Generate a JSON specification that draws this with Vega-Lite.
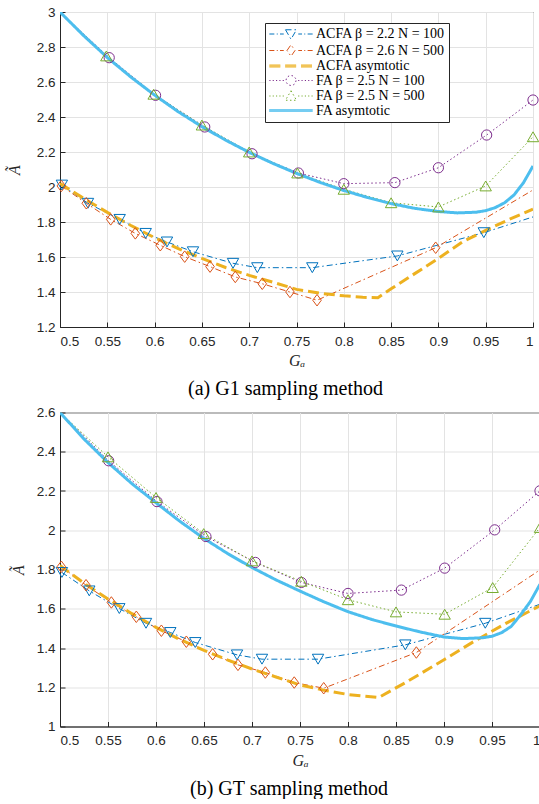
{
  "$schema": "https://vega.github.io/schema/vega-lite/v6.json",
  "padding": {"left": 5, "top": 4, "right": 0, "bottom": 0},
  "background": "white",
  "datasets": {
    "g1_lines": [
      {"s": "ACFA β = 2.2 N = 100", "x": 0.502, "y": 2.011},
      {"s": "ACFA β = 2.2 N = 100", "x": 0.5296, "y": 1.907},
      {"s": "ACFA β = 2.2 N = 100", "x": 0.5631, "y": 1.815},
      {"s": "ACFA β = 2.2 N = 100", "x": 0.5906, "y": 1.735},
      {"s": "ACFA β = 2.2 N = 100", "x": 0.6131, "y": 1.686},
      {"s": "ACFA β = 2.2 N = 100", "x": 0.6406, "y": 1.63},
      {"s": "ACFA β = 2.2 N = 100", "x": 0.6829, "y": 1.564},
      {"s": "ACFA β = 2.2 N = 100", "x": 0.7086, "y": 1.539},
      {"s": "ACFA β = 2.2 N = 100", "x": 0.7667, "y": 1.539},
      {"s": "ACFA β = 2.2 N = 100", "x": 0.8566, "y": 1.606},
      {"s": "ACFA β = 2.2 N = 100", "x": 0.948, "y": 1.739},
      {"s": "ACFA β = 2.2 N = 100", "x": 1.0, "y": 1.829},
      {"s": "ACFA β = 2.6 N = 500", "x": 0.5014, "y": 2.006},
      {"s": "ACFA β = 2.6 N = 500", "x": 0.5278, "y": 1.907},
      {"s": "ACFA β = 2.6 N = 500", "x": 0.5536, "y": 1.815},
      {"s": "ACFA β = 2.6 N = 500", "x": 0.5796, "y": 1.735},
      {"s": "ACFA β = 2.6 N = 500", "x": 0.606, "y": 1.667},
      {"s": "ACFA β = 2.6 N = 500", "x": 0.6318, "y": 1.602},
      {"s": "ACFA β = 2.6 N = 500", "x": 0.6586, "y": 1.545},
      {"s": "ACFA β = 2.6 N = 500", "x": 0.6853, "y": 1.486},
      {"s": "ACFA β = 2.6 N = 500", "x": 0.7138, "y": 1.447},
      {"s": "ACFA β = 2.6 N = 500", "x": 0.7431, "y": 1.4},
      {"s": "ACFA β = 2.6 N = 500", "x": 0.7717, "y": 1.353},
      {"s": "ACFA β = 2.6 N = 500", "x": 0.8971, "y": 1.653},
      {"s": "ACFA β = 2.6 N = 500", "x": 1.0, "y": 1.983},
      {"s": "ACFA asymtotic", "x": 0.5, "y": 2.02},
      {"s": "ACFA asymtotic", "x": 0.525, "y": 1.935},
      {"s": "ACFA asymtotic", "x": 0.55, "y": 1.855},
      {"s": "ACFA asymtotic", "x": 0.575, "y": 1.78},
      {"s": "ACFA asymtotic", "x": 0.6, "y": 1.71},
      {"s": "ACFA asymtotic", "x": 0.625, "y": 1.648},
      {"s": "ACFA asymtotic", "x": 0.65, "y": 1.592},
      {"s": "ACFA asymtotic", "x": 0.675, "y": 1.54},
      {"s": "ACFA asymtotic", "x": 0.7, "y": 1.495},
      {"s": "ACFA asymtotic", "x": 0.725, "y": 1.456},
      {"s": "ACFA asymtotic", "x": 0.75, "y": 1.415},
      {"s": "ACFA asymtotic", "x": 0.775, "y": 1.393},
      {"s": "ACFA asymtotic", "x": 0.8, "y": 1.378},
      {"s": "ACFA asymtotic", "x": 0.82, "y": 1.37},
      {"s": "ACFA asymtotic", "x": 0.836, "y": 1.367},
      {"s": "ACFA asymtotic", "x": 0.85, "y": 1.418},
      {"s": "ACFA asymtotic", "x": 0.875, "y": 1.505},
      {"s": "ACFA asymtotic", "x": 0.9, "y": 1.592},
      {"s": "ACFA asymtotic", "x": 0.925, "y": 1.685},
      {"s": "ACFA asymtotic", "x": 0.95, "y": 1.752},
      {"s": "ACFA asymtotic", "x": 0.975, "y": 1.815},
      {"s": "ACFA asymtotic", "x": 1.0, "y": 1.873},
      {"s": "FA β = 2.5 N = 100", "x": 0.5, "y": 3.0},
      {"s": "FA β = 2.5 N = 100", "x": 0.552, "y": 2.739},
      {"s": "FA β = 2.5 N = 100", "x": 0.601, "y": 2.524},
      {"s": "FA β = 2.5 N = 100", "x": 0.653, "y": 2.343},
      {"s": "FA β = 2.5 N = 100", "x": 0.703, "y": 2.19},
      {"s": "FA β = 2.5 N = 100", "x": 0.752, "y": 2.08},
      {"s": "FA β = 2.5 N = 100", "x": 0.8, "y": 2.019},
      {"s": "FA β = 2.5 N = 100", "x": 0.854, "y": 2.025},
      {"s": "FA β = 2.5 N = 100", "x": 0.9, "y": 2.11},
      {"s": "FA β = 2.5 N = 100", "x": 0.951, "y": 2.297},
      {"s": "FA β = 2.5 N = 100", "x": 1.0, "y": 2.497},
      {"s": "FA β = 2.5 N = 500", "x": 0.5, "y": 3.0},
      {"s": "FA β = 2.5 N = 500", "x": 0.549, "y": 2.749},
      {"s": "FA β = 2.5 N = 500", "x": 0.599, "y": 2.53},
      {"s": "FA β = 2.5 N = 500", "x": 0.65, "y": 2.354},
      {"s": "FA β = 2.5 N = 500", "x": 0.7, "y": 2.2},
      {"s": "FA β = 2.5 N = 500", "x": 0.751, "y": 2.08},
      {"s": "FA β = 2.5 N = 500", "x": 0.8, "y": 1.987},
      {"s": "FA β = 2.5 N = 500", "x": 0.85, "y": 1.91},
      {"s": "FA β = 2.5 N = 500", "x": 0.9, "y": 1.886},
      {"s": "FA β = 2.5 N = 500", "x": 0.95, "y": 2.006},
      {"s": "FA β = 2.5 N = 500", "x": 1.0, "y": 2.287},
      {"s": "FA asymtotic", "x": 0.5, "y": 3.0},
      {"s": "FA asymtotic", "x": 0.525, "y": 2.865},
      {"s": "FA asymtotic", "x": 0.55, "y": 2.74},
      {"s": "FA asymtotic", "x": 0.575, "y": 2.628},
      {"s": "FA asymtotic", "x": 0.6, "y": 2.525},
      {"s": "FA asymtotic", "x": 0.625, "y": 2.43},
      {"s": "FA asymtotic", "x": 0.65, "y": 2.345},
      {"s": "FA asymtotic", "x": 0.675, "y": 2.268},
      {"s": "FA asymtotic", "x": 0.7, "y": 2.198},
      {"s": "FA asymtotic", "x": 0.725, "y": 2.135},
      {"s": "FA asymtotic", "x": 0.75, "y": 2.078},
      {"s": "FA asymtotic", "x": 0.775, "y": 2.026},
      {"s": "FA asymtotic", "x": 0.8, "y": 1.98},
      {"s": "FA asymtotic", "x": 0.825, "y": 1.94},
      {"s": "FA asymtotic", "x": 0.85, "y": 1.905},
      {"s": "FA asymtotic", "x": 0.875, "y": 1.878},
      {"s": "FA asymtotic", "x": 0.9, "y": 1.86},
      {"s": "FA asymtotic", "x": 0.92, "y": 1.852},
      {"s": "FA asymtotic", "x": 0.94, "y": 1.856},
      {"s": "FA asymtotic", "x": 0.95, "y": 1.865},
      {"s": "FA asymtotic", "x": 0.96, "y": 1.882},
      {"s": "FA asymtotic", "x": 0.97, "y": 1.91},
      {"s": "FA asymtotic", "x": 0.98, "y": 1.955},
      {"s": "FA asymtotic", "x": 0.99, "y": 2.025},
      {"s": "FA asymtotic", "x": 1.0, "y": 2.12}
    ],
    "g1_marks": [
      {"s": "ACFA β = 2.2 N = 100", "x": 0.502, "y": 2.011},
      {"s": "ACFA β = 2.2 N = 100", "x": 0.5296, "y": 1.907},
      {"s": "ACFA β = 2.2 N = 100", "x": 0.5631, "y": 1.815},
      {"s": "ACFA β = 2.2 N = 100", "x": 0.5906, "y": 1.735},
      {"s": "ACFA β = 2.2 N = 100", "x": 0.6131, "y": 1.686},
      {"s": "ACFA β = 2.2 N = 100", "x": 0.6406, "y": 1.63},
      {"s": "ACFA β = 2.2 N = 100", "x": 0.6829, "y": 1.564},
      {"s": "ACFA β = 2.2 N = 100", "x": 0.7086, "y": 1.539},
      {"s": "ACFA β = 2.2 N = 100", "x": 0.7667, "y": 1.539},
      {"s": "ACFA β = 2.2 N = 100", "x": 0.8566, "y": 1.606},
      {"s": "ACFA β = 2.2 N = 100", "x": 0.948, "y": 1.739},
      {"s": "ACFA β = 2.6 N = 500", "x": 0.5014, "y": 2.006},
      {"s": "ACFA β = 2.6 N = 500", "x": 0.5278, "y": 1.907},
      {"s": "ACFA β = 2.6 N = 500", "x": 0.5536, "y": 1.815},
      {"s": "ACFA β = 2.6 N = 500", "x": 0.5796, "y": 1.735},
      {"s": "ACFA β = 2.6 N = 500", "x": 0.606, "y": 1.667},
      {"s": "ACFA β = 2.6 N = 500", "x": 0.6318, "y": 1.602},
      {"s": "ACFA β = 2.6 N = 500", "x": 0.6586, "y": 1.545},
      {"s": "ACFA β = 2.6 N = 500", "x": 0.6853, "y": 1.486},
      {"s": "ACFA β = 2.6 N = 500", "x": 0.7138, "y": 1.447},
      {"s": "ACFA β = 2.6 N = 500", "x": 0.7431, "y": 1.4},
      {"s": "ACFA β = 2.6 N = 500", "x": 0.7717, "y": 1.353},
      {"s": "ACFA β = 2.6 N = 500", "x": 0.8971, "y": 1.653},
      {"s": "FA β = 2.5 N = 100", "x": 0.552, "y": 2.739},
      {"s": "FA β = 2.5 N = 100", "x": 0.601, "y": 2.524},
      {"s": "FA β = 2.5 N = 100", "x": 0.653, "y": 2.343},
      {"s": "FA β = 2.5 N = 100", "x": 0.703, "y": 2.19},
      {"s": "FA β = 2.5 N = 100", "x": 0.752, "y": 2.08},
      {"s": "FA β = 2.5 N = 100", "x": 0.8, "y": 2.019},
      {"s": "FA β = 2.5 N = 100", "x": 0.854, "y": 2.025},
      {"s": "FA β = 2.5 N = 100", "x": 0.9, "y": 2.11},
      {"s": "FA β = 2.5 N = 100", "x": 0.951, "y": 2.297},
      {"s": "FA β = 2.5 N = 100", "x": 1.0, "y": 2.497},
      {"s": "FA β = 2.5 N = 500", "x": 0.549, "y": 2.749},
      {"s": "FA β = 2.5 N = 500", "x": 0.599, "y": 2.53},
      {"s": "FA β = 2.5 N = 500", "x": 0.65, "y": 2.354},
      {"s": "FA β = 2.5 N = 500", "x": 0.7, "y": 2.2},
      {"s": "FA β = 2.5 N = 500", "x": 0.751, "y": 2.08},
      {"s": "FA β = 2.5 N = 500", "x": 0.8, "y": 1.987},
      {"s": "FA β = 2.5 N = 500", "x": 0.85, "y": 1.91},
      {"s": "FA β = 2.5 N = 500", "x": 0.9, "y": 1.886},
      {"s": "FA β = 2.5 N = 500", "x": 0.95, "y": 2.006},
      {"s": "FA β = 2.5 N = 500", "x": 1.0, "y": 2.287}
    ],
    "gt_lines": [
      {"s": "ACFA β = 2.2 N = 100", "x": 0.502, "y": 1.785},
      {"s": "ACFA β = 2.2 N = 100", "x": 0.5305, "y": 1.691},
      {"s": "ACFA β = 2.2 N = 100", "x": 0.5618, "y": 1.601},
      {"s": "ACFA β = 2.2 N = 100", "x": 0.5896, "y": 1.526},
      {"s": "ACFA β = 2.2 N = 100", "x": 0.6149, "y": 1.479},
      {"s": "ACFA β = 2.2 N = 100", "x": 0.6409, "y": 1.428},
      {"s": "ACFA β = 2.2 N = 100", "x": 0.6844, "y": 1.365},
      {"s": "ACFA β = 2.2 N = 100", "x": 0.7104, "y": 1.343},
      {"s": "ACFA β = 2.2 N = 100", "x": 0.7688, "y": 1.343},
      {"s": "ACFA β = 2.2 N = 100", "x": 0.8597, "y": 1.416},
      {"s": "ACFA β = 2.2 N = 100", "x": 0.943, "y": 1.526},
      {"s": "ACFA β = 2.2 N = 100", "x": 1.0, "y": 1.623},
      {"s": "ACFA β = 2.6 N = 500", "x": 0.5014, "y": 1.814},
      {"s": "ACFA β = 2.6 N = 500", "x": 0.5271, "y": 1.72},
      {"s": "ACFA β = 2.6 N = 500", "x": 0.5535, "y": 1.632},
      {"s": "ACFA β = 2.6 N = 500", "x": 0.5795, "y": 1.559},
      {"s": "ACFA β = 2.6 N = 500", "x": 0.6056, "y": 1.488},
      {"s": "ACFA β = 2.6 N = 500", "x": 0.6316, "y": 1.432},
      {"s": "ACFA β = 2.6 N = 500", "x": 0.659, "y": 1.368},
      {"s": "ACFA β = 2.6 N = 500", "x": 0.6854, "y": 1.314},
      {"s": "ACFA β = 2.6 N = 500", "x": 0.7139, "y": 1.275},
      {"s": "ACFA β = 2.6 N = 500", "x": 0.744, "y": 1.224},
      {"s": "ACFA β = 2.6 N = 500", "x": 0.7747, "y": 1.195},
      {"s": "ACFA β = 2.6 N = 500", "x": 0.8712, "y": 1.377},
      {"s": "ACFA β = 2.6 N = 500", "x": 1.0, "y": 1.798},
      {"s": "ACFA asymtotic", "x": 0.5, "y": 1.82},
      {"s": "ACFA asymtotic", "x": 0.525, "y": 1.73},
      {"s": "ACFA asymtotic", "x": 0.55, "y": 1.65},
      {"s": "ACFA asymtotic", "x": 0.575, "y": 1.575},
      {"s": "ACFA asymtotic", "x": 0.6, "y": 1.505},
      {"s": "ACFA asymtotic", "x": 0.625, "y": 1.443},
      {"s": "ACFA asymtotic", "x": 0.65, "y": 1.388},
      {"s": "ACFA asymtotic", "x": 0.675, "y": 1.338},
      {"s": "ACFA asymtotic", "x": 0.7, "y": 1.293},
      {"s": "ACFA asymtotic", "x": 0.725, "y": 1.252},
      {"s": "ACFA asymtotic", "x": 0.75, "y": 1.212},
      {"s": "ACFA asymtotic", "x": 0.775, "y": 1.185},
      {"s": "ACFA asymtotic", "x": 0.8, "y": 1.163},
      {"s": "ACFA asymtotic", "x": 0.832, "y": 1.148},
      {"s": "ACFA asymtotic", "x": 0.86, "y": 1.224},
      {"s": "ACFA asymtotic", "x": 0.9, "y": 1.34},
      {"s": "ACFA asymtotic", "x": 0.93, "y": 1.43},
      {"s": "ACFA asymtotic", "x": 0.965, "y": 1.527},
      {"s": "ACFA asymtotic", "x": 1.0, "y": 1.615},
      {"s": "FA β = 2.5 N = 100", "x": 0.5, "y": 2.6},
      {"s": "FA β = 2.5 N = 100", "x": 0.5507, "y": 2.354},
      {"s": "FA β = 2.5 N = 100", "x": 0.601, "y": 2.146},
      {"s": "FA β = 2.5 N = 100", "x": 0.652, "y": 1.968},
      {"s": "FA β = 2.5 N = 100", "x": 0.7035, "y": 1.836},
      {"s": "FA β = 2.5 N = 100", "x": 0.7514, "y": 1.734},
      {"s": "FA β = 2.5 N = 100", "x": 0.8, "y": 1.678},
      {"s": "FA β = 2.5 N = 100", "x": 0.8556, "y": 1.695},
      {"s": "FA β = 2.5 N = 100", "x": 0.9007, "y": 1.807},
      {"s": "FA β = 2.5 N = 100", "x": 0.9528, "y": 2.002},
      {"s": "FA β = 2.5 N = 100", "x": 1.0, "y": 2.201},
      {"s": "FA β = 2.5 N = 500", "x": 0.5, "y": 2.6},
      {"s": "FA β = 2.5 N = 500", "x": 0.55, "y": 2.374},
      {"s": "FA β = 2.5 N = 500", "x": 0.6, "y": 2.167},
      {"s": "FA β = 2.5 N = 500", "x": 0.6497, "y": 1.983},
      {"s": "FA β = 2.5 N = 500", "x": 0.7, "y": 1.844},
      {"s": "FA β = 2.5 N = 500", "x": 0.7514, "y": 1.74},
      {"s": "FA β = 2.5 N = 500", "x": 0.8, "y": 1.646},
      {"s": "FA β = 2.5 N = 500", "x": 0.85, "y": 1.584},
      {"s": "FA β = 2.5 N = 500", "x": 0.9007, "y": 1.572},
      {"s": "FA β = 2.5 N = 500", "x": 0.9507, "y": 1.708},
      {"s": "FA β = 2.5 N = 500", "x": 1.0, "y": 2.014},
      {"s": "FA asymtotic", "x": 0.5, "y": 2.6},
      {"s": "FA asymtotic", "x": 0.525, "y": 2.465},
      {"s": "FA asymtotic", "x": 0.55, "y": 2.345},
      {"s": "FA asymtotic", "x": 0.575, "y": 2.237},
      {"s": "FA asymtotic", "x": 0.6, "y": 2.14},
      {"s": "FA asymtotic", "x": 0.625, "y": 2.045},
      {"s": "FA asymtotic", "x": 0.65, "y": 1.958},
      {"s": "FA asymtotic", "x": 0.675, "y": 1.88},
      {"s": "FA asymtotic", "x": 0.7, "y": 1.81},
      {"s": "FA asymtotic", "x": 0.725, "y": 1.747},
      {"s": "FA asymtotic", "x": 0.75, "y": 1.69},
      {"s": "FA asymtotic", "x": 0.775, "y": 1.635},
      {"s": "FA asymtotic", "x": 0.8, "y": 1.585},
      {"s": "FA asymtotic", "x": 0.825, "y": 1.545},
      {"s": "FA asymtotic", "x": 0.85, "y": 1.512},
      {"s": "FA asymtotic", "x": 0.875, "y": 1.482},
      {"s": "FA asymtotic", "x": 0.9, "y": 1.456},
      {"s": "FA asymtotic", "x": 0.92, "y": 1.448},
      {"s": "FA asymtotic", "x": 0.94, "y": 1.452},
      {"s": "FA asymtotic", "x": 0.95, "y": 1.46},
      {"s": "FA asymtotic", "x": 0.96, "y": 1.478},
      {"s": "FA asymtotic", "x": 0.97, "y": 1.51},
      {"s": "FA asymtotic", "x": 0.98, "y": 1.57},
      {"s": "FA asymtotic", "x": 0.99, "y": 1.637},
      {"s": "FA asymtotic", "x": 1.0, "y": 1.725}
    ],
    "gt_marks": [
      {"s": "ACFA β = 2.2 N = 100", "x": 0.502, "y": 1.785},
      {"s": "ACFA β = 2.2 N = 100", "x": 0.5305, "y": 1.691},
      {"s": "ACFA β = 2.2 N = 100", "x": 0.5618, "y": 1.601},
      {"s": "ACFA β = 2.2 N = 100", "x": 0.5896, "y": 1.526},
      {"s": "ACFA β = 2.2 N = 100", "x": 0.6149, "y": 1.479},
      {"s": "ACFA β = 2.2 N = 100", "x": 0.6409, "y": 1.428},
      {"s": "ACFA β = 2.2 N = 100", "x": 0.6844, "y": 1.365},
      {"s": "ACFA β = 2.2 N = 100", "x": 0.7104, "y": 1.343},
      {"s": "ACFA β = 2.2 N = 100", "x": 0.7688, "y": 1.343},
      {"s": "ACFA β = 2.2 N = 100", "x": 0.8597, "y": 1.416},
      {"s": "ACFA β = 2.2 N = 100", "x": 0.943, "y": 1.526},
      {"s": "ACFA β = 2.6 N = 500", "x": 0.5014, "y": 1.814},
      {"s": "ACFA β = 2.6 N = 500", "x": 0.5271, "y": 1.72},
      {"s": "ACFA β = 2.6 N = 500", "x": 0.5535, "y": 1.632},
      {"s": "ACFA β = 2.6 N = 500", "x": 0.5795, "y": 1.559},
      {"s": "ACFA β = 2.6 N = 500", "x": 0.6056, "y": 1.488},
      {"s": "ACFA β = 2.6 N = 500", "x": 0.6316, "y": 1.432},
      {"s": "ACFA β = 2.6 N = 500", "x": 0.659, "y": 1.368},
      {"s": "ACFA β = 2.6 N = 500", "x": 0.6854, "y": 1.314},
      {"s": "ACFA β = 2.6 N = 500", "x": 0.7139, "y": 1.275},
      {"s": "ACFA β = 2.6 N = 500", "x": 0.744, "y": 1.224},
      {"s": "ACFA β = 2.6 N = 500", "x": 0.7747, "y": 1.195},
      {"s": "ACFA β = 2.6 N = 500", "x": 0.8712, "y": 1.377},
      {"s": "FA β = 2.5 N = 100", "x": 0.5507, "y": 2.354},
      {"s": "FA β = 2.5 N = 100", "x": 0.601, "y": 2.146},
      {"s": "FA β = 2.5 N = 100", "x": 0.652, "y": 1.968},
      {"s": "FA β = 2.5 N = 100", "x": 0.7035, "y": 1.836},
      {"s": "FA β = 2.5 N = 100", "x": 0.7514, "y": 1.734},
      {"s": "FA β = 2.5 N = 100", "x": 0.8, "y": 1.678},
      {"s": "FA β = 2.5 N = 100", "x": 0.8556, "y": 1.695},
      {"s": "FA β = 2.5 N = 100", "x": 0.9007, "y": 1.807},
      {"s": "FA β = 2.5 N = 100", "x": 0.9528, "y": 2.002},
      {"s": "FA β = 2.5 N = 100", "x": 1.0, "y": 2.201},
      {"s": "FA β = 2.5 N = 500", "x": 0.55, "y": 2.374},
      {"s": "FA β = 2.5 N = 500", "x": 0.6, "y": 2.167},
      {"s": "FA β = 2.5 N = 500", "x": 0.6497, "y": 1.983},
      {"s": "FA β = 2.5 N = 500", "x": 0.7, "y": 1.844},
      {"s": "FA β = 2.5 N = 500", "x": 0.7514, "y": 1.74},
      {"s": "FA β = 2.5 N = 500", "x": 0.8, "y": 1.646},
      {"s": "FA β = 2.5 N = 500", "x": 0.85, "y": 1.584},
      {"s": "FA β = 2.5 N = 500", "x": 0.9007, "y": 1.572},
      {"s": "FA β = 2.5 N = 500", "x": 0.9507, "y": 1.708},
      {"s": "FA β = 2.5 N = 500", "x": 1.0, "y": 2.014}
    ]
  },
  "vconcat": [
    {
      "width": 473,
      "height": 315,
      "title": {"text": "(a)  G1 sampling method", "orient": "bottom", "frame": "group", "anchor": "middle", "dx": -11, "offset": 10.5, "font": "Liberation Serif", "fontSize": 20, "fontWeight": "normal", "color": "black"},
      "encoding": {
        "x": {"field": "x", "type": "quantitative", "scale": {"domain": [0.5, 1], "nice": false, "zero": false},
              "axis": {"values": [0.5, 0.55, 0.6, 0.65, 0.7, 0.75, 0.8, 0.85, 0.9, 0.95, 1], "format": "~g", "title": "Gₐ", "titlePadding": 5, "labelPadding": 12}},
        "y": {"field": "y", "type": "quantitative", "scale": {"domain": [1.2, 3], "nice": false, "zero": false},
              "axis": {"values": [1.2, 1.4, 1.6, 1.8, 2, 2.2, 2.4, 2.6, 2.8, 3], "format": "~g", "title": "Ã", "titlePadding": 14, "labelPadding": 10}},
        "color": {"field": "s", "type": "nominal",
                  "scale": {"domain": ["ACFA β = 2.2 N = 100", "ACFA β = 2.6 N = 500", "ACFA asymtotic", "FA β = 2.5 N = 100", "FA β = 2.5 N = 500", "FA asymtotic"],
                            "range": ["#0072BD", "#D95319", "#EDB120", "#7E2F8E", "#77AC30", "#4DBEEE"]},
                  "legend": {"legendX": 205, "legendY": 11}}
      },
      "layer": [
        {"data": {"name": "g1_lines"},
         "mark": {"type": "point", "opacity": 0, "filled": false, "strokeWidth": 1},
         "encoding": {"shape": {"field": "s", "type": "nominal", "legend": {"legendX": 205, "legendY": 11},
           "scale": {"domain": ["ACFA β = 2.2 N = 100", "ACFA β = 2.6 N = 500", "ACFA asymtotic", "FA β = 2.5 N = 100", "FA β = 2.5 N = 500", "FA asymtotic"],
                     "range": ["M-4.33,0H-3.33M-2.85,0H-2.65M-2.2,0H-1.45M1.45,0H2.2M2.65,0H2.85M3.33,0H4.33M-1.1,-0.85L1.1,-0.85L0,1.05Z", "M-4.33,0H-3.33M-2.85,0H-2.65M-2.2,0H-1.45M1.45,0H2.2M2.65,0H2.85M3.33,0H4.33M-0.8,0L0,-1.15L0.8,0L0,1.15Z", "M-4.33,-0.2H-2M-4.33,0H-2M-4.33,0.2H-2M-1.17,-0.2H1.17M-1.17,0H1.17M-1.17,0.2H1.17M2,-0.2H4.33M2,0H4.33M2,0.2H4.33", "M-4.33,0H-4.1M-3.66,0H-3.43M-3,0H-2.77M-2.33,0H-2.1M-1.66,0H-1.43M1.43,0H1.66M2.1,0H2.33M2.77,0H3M3.43,0H3.66M4.1,0H4.33M1,0L0.924,0.383L0.707,0.707L0.383,0.924L0,1L-0.383,0.924L-0.707,0.707L-0.924,0.383L-1,0L-0.924,-0.383L-0.707,-0.707L-0.383,-0.924L0,-1L0.383,-0.924L0.707,-0.707L0.924,-0.383Z", "M-4.33,0H-4.1M-3.66,0H-3.43M-3,0H-2.77M-2.33,0H-2.1M-1.66,0H-1.43M1.43,0H1.66M2.1,0H2.33M2.77,0H3M3.43,0H3.66M4.1,0H4.33M0,-1.05L1.1,0.85L-1.1,0.85Z", "M-4.33,-0.2H4.33M-4.33,0H4.33M-4.33,0.2H4.33"]}}}},
        {"data": {"name": "g1_lines"},
         "transform": [{"filter": {"field": "s", "oneOf": ["ACFA β = 2.2 N = 100", "ACFA β = 2.6 N = 500", "FA β = 2.5 N = 100", "FA β = 2.5 N = 500"]}}],
         "mark": {"type": "line", "strokeWidth": 1, "clip": true},
         "encoding": {"strokeDash": {"field": "s", "type": "nominal", "legend": null,
           "scale": {"domain": ["ACFA β = 2.2 N = 100", "ACFA β = 2.6 N = 500", "ACFA asymtotic", "FA β = 2.5 N = 100", "FA β = 2.5 N = 500", "FA asymtotic"],
                     "range": [[6, 3, 1.5, 3], [6, 3, 1.5, 3], [11, 5], [1.5, 2.5], [1.5, 2.5], [1, 0]]}}}},
        {"data": {"name": "g1_lines"},
         "transform": [{"filter": {"field": "s", "oneOf": ["ACFA asymtotic", "FA asymtotic"]}}],
         "mark": {"type": "line", "strokeWidth": 3, "clip": true},
         "encoding": {"strokeDash": {"field": "s", "type": "nominal", "legend": null}}},
        {"data": {"name": "g1_marks"}, "transform": [{"filter": {"field": "s", "equal": "ACFA β = 2.2 N = 100"}}],
         "mark": {"type": "point", "shape": "triangle-down", "filled": false, "size": 130, "strokeWidth": 1, "opacity": 1}},
        {"data": {"name": "g1_marks"}, "transform": [{"filter": {"field": "s", "equal": "ACFA β = 2.6 N = 500"}}],
         "mark": {"type": "point", "shape": "M-0.75,0L0,-1L0.75,0L0,1Z", "filled": false, "size": 132, "strokeWidth": 1, "opacity": 1}},
        {"data": {"name": "g1_marks"}, "transform": [{"filter": {"field": "s", "equal": "FA β = 2.5 N = 100"}}],
         "mark": {"type": "point", "shape": "circle", "filled": false, "size": 105, "strokeWidth": 1, "opacity": 1}},
        {"data": {"name": "g1_marks"}, "transform": [{"filter": {"field": "s", "equal": "FA β = 2.5 N = 500"}}],
         "mark": {"type": "point", "shape": "triangle-up", "filled": false, "size": 130, "strokeWidth": 1, "opacity": 1}}
      ]
    },
    {
      "width": 480,
      "height": 314,
      "title": {"text": "(b)  GT sampling method", "orient": "bottom", "frame": "group", "anchor": "middle", "dx": -11, "offset": 10.5, "font": "Liberation Serif", "fontSize": 20, "fontWeight": "normal", "color": "black"},
      "encoding": {
        "x": {"field": "x", "type": "quantitative", "scale": {"domain": [0.5, 1], "nice": false, "zero": false},
              "axis": {"values": [0.5, 0.55, 0.6, 0.65, 0.7, 0.75, 0.8, 0.85, 0.9, 0.95, 1], "format": "~g", "title": "Gₐ", "titlePadding": 5, "labelPadding": 12}},
        "y": {"field": "y", "type": "quantitative", "scale": {"domain": [1, 2.6], "nice": false, "zero": false},
              "axis": {"values": [1, 1.2, 1.4, 1.6, 1.8, 2, 2.2, 2.4, 2.6], "format": "~g", "title": "Ã", "titlePadding": 10, "labelPadding": 10}},
        "color": {"field": "s", "type": "nominal",
                  "scale": {"domain": ["ACFA β = 2.2 N = 100", "ACFA β = 2.6 N = 500", "ACFA asymtotic", "FA β = 2.5 N = 100", "FA β = 2.5 N = 500", "FA asymtotic"],
                            "range": ["#0072BD", "#D95319", "#EDB120", "#7E2F8E", "#77AC30", "#4DBEEE"]},
                  "legend": {"legendX": 199, "legendY": 12}}
      },
      "layer": [
        {"data": {"name": "gt_lines"},
         "mark": {"type": "point", "opacity": 0, "filled": false, "strokeWidth": 1},
         "encoding": {"shape": {"field": "s", "type": "nominal", "legend": {"legendX": 199, "legendY": 12},
           "scale": {"domain": ["ACFA β = 2.2 N = 100", "ACFA β = 2.6 N = 500", "ACFA asymtotic", "FA β = 2.5 N = 100", "FA β = 2.5 N = 500", "FA asymtotic"],
                     "range": ["M-4.33,0H-3.33M-2.85,0H-2.65M-2.2,0H-1.45M1.45,0H2.2M2.65,0H2.85M3.33,0H4.33M-1.1,-0.85L1.1,-0.85L0,1.05Z", "M-4.33,0H-3.33M-2.85,0H-2.65M-2.2,0H-1.45M1.45,0H2.2M2.65,0H2.85M3.33,0H4.33M-0.8,0L0,-1.15L0.8,0L0,1.15Z", "M-4.33,-0.2H-2M-4.33,0H-2M-4.33,0.2H-2M-1.17,-0.2H1.17M-1.17,0H1.17M-1.17,0.2H1.17M2,-0.2H4.33M2,0H4.33M2,0.2H4.33", "M-4.33,0H-4.1M-3.66,0H-3.43M-3,0H-2.77M-2.33,0H-2.1M-1.66,0H-1.43M1.43,0H1.66M2.1,0H2.33M2.77,0H3M3.43,0H3.66M4.1,0H4.33M1,0L0.924,0.383L0.707,0.707L0.383,0.924L0,1L-0.383,0.924L-0.707,0.707L-0.924,0.383L-1,0L-0.924,-0.383L-0.707,-0.707L-0.383,-0.924L0,-1L0.383,-0.924L0.707,-0.707L0.924,-0.383Z", "M-4.33,0H-4.1M-3.66,0H-3.43M-3,0H-2.77M-2.33,0H-2.1M-1.66,0H-1.43M1.43,0H1.66M2.1,0H2.33M2.77,0H3M3.43,0H3.66M4.1,0H4.33M0,-1.05L1.1,0.85L-1.1,0.85Z", "M-4.33,-0.2H4.33M-4.33,0H4.33M-4.33,0.2H4.33"]}}}},
        {"data": {"name": "gt_lines"},
         "transform": [{"filter": {"field": "s", "oneOf": ["ACFA β = 2.2 N = 100", "ACFA β = 2.6 N = 500", "FA β = 2.5 N = 100", "FA β = 2.5 N = 500"]}}],
         "mark": {"type": "line", "strokeWidth": 1, "clip": true},
         "encoding": {"strokeDash": {"field": "s", "type": "nominal", "legend": null,
           "scale": {"domain": ["ACFA β = 2.2 N = 100", "ACFA β = 2.6 N = 500", "ACFA asymtotic", "FA β = 2.5 N = 100", "FA β = 2.5 N = 500", "FA asymtotic"],
                     "range": [[6, 3, 1.5, 3], [6, 3, 1.5, 3], [11, 5], [1.5, 2.5], [1.5, 2.5], [1, 0]]}}}},
        {"data": {"name": "gt_lines"},
         "transform": [{"filter": {"field": "s", "oneOf": ["ACFA asymtotic", "FA asymtotic"]}}],
         "mark": {"type": "line", "strokeWidth": 3, "clip": true},
         "encoding": {"strokeDash": {"field": "s", "type": "nominal", "legend": null}}},
        {"data": {"name": "gt_marks"}, "transform": [{"filter": {"field": "s", "equal": "ACFA β = 2.2 N = 100"}}],
         "mark": {"type": "point", "shape": "triangle-down", "filled": false, "size": 130, "strokeWidth": 1, "opacity": 1}},
        {"data": {"name": "gt_marks"}, "transform": [{"filter": {"field": "s", "equal": "ACFA β = 2.6 N = 500"}}],
         "mark": {"type": "point", "shape": "M-0.75,0L0,-1L0.75,0L0,1Z", "filled": false, "size": 132, "strokeWidth": 1, "opacity": 1}},
        {"data": {"name": "gt_marks"}, "transform": [{"filter": {"field": "s", "equal": "FA β = 2.5 N = 100"}}],
         "mark": {"type": "point", "shape": "circle", "filled": false, "size": 105, "strokeWidth": 1, "opacity": 1}},
        {"data": {"name": "gt_marks"}, "transform": [{"filter": {"field": "s", "equal": "FA β = 2.5 N = 500"}}],
         "mark": {"type": "point", "shape": "triangle-up", "filled": false, "size": 130, "strokeWidth": 1, "opacity": 1}}
      ]
    }
  ],
  "config": {
    "font": "Liberation Sans",
    "view": {"stroke": "#262626", "strokeWidth": 1},
    "concat": {"spacing": 4.5},
    "axis": {"labelFont": "Liberation Sans", "labelFontSize": 13.5, "labelColor": "#262626", "domainColor": "#262626", "tickColor": "#262626", "gridColor": "#e3e3e3", "tickSize": -5, "titleFont": "Liberation Serif", "titleFontStyle": "italic", "titleFontWeight": "normal", "titleFontSize": 16, "titleColor": "#262626"},
    "legend": {"title": null, "orient": "none", "fillColor": "white", "strokeColor": "#262626", "padding": 4, "labelFont": "Liberation Serif", "labelFontSize": 14, "labelColor": "black", "labelLimit": 300, "symbolSize": 100, "symbolStrokeWidth": 1, "symbolOpacity": 1, "symbolFillColor": "transparent", "symbolOffset": 15, "labelOffset": 18, "rowPadding": 0.5}
  }
}
